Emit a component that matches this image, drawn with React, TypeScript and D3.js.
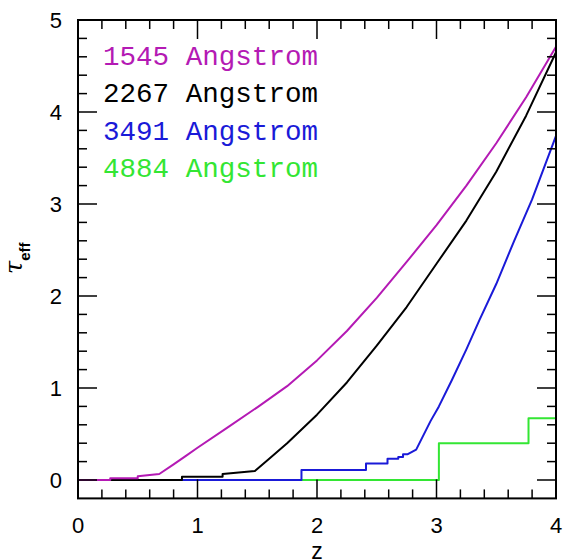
import React, { useEffect, useRef } from 'react';
import * as d3 from 'd3';

// tau_eff vs redshift, one curve per rest wavelength
const z1545 = [0, 0.27, 0.27, 0.5, 0.5, 0.68, 0.8, 0.9, 1.0, 1.25, 1.5, 1.75, 2.0, 2.25, 2.5, 2.75, 3.0, 3.25, 3.5, 3.75, 4.0];
const t1545 = [0, 0, 0.018, 0.018, 0.04, 0.065, 0.17, 0.26, 0.35, 0.57, 0.79, 1.02, 1.3, 1.62, 1.98, 2.37, 2.77, 3.2, 3.66, 4.16, 4.71];

const z2267 = [0, 0.87, 0.87, 1.21, 1.21, 1.48, 1.6, 1.75, 2.0, 2.25, 2.5, 2.75, 3.0, 3.25, 3.5, 3.75, 4.0];
const t2267 = [0, 0, 0.036, 0.036, 0.065, 0.098, 0.23, 0.4, 0.71, 1.06, 1.46, 1.88, 2.35, 2.82, 3.35, 3.96, 4.65];

const z3491 = [0, 1.87, 1.87, 2.41, 2.41, 2.59, 2.59, 2.68, 2.68, 2.72, 2.72, 2.76, 2.83, 2.95, 3.02, 3.13, 3.25, 3.36, 3.5, 3.65, 3.8, 4.0];
const t3491 = [0, 0, 0.109, 0.109, 0.18, 0.18, 0.23, 0.23, 0.25, 0.25, 0.28, 0.28, 0.33, 0.64, 0.8, 1.09, 1.42, 1.74, 2.13, 2.6, 3.05, 3.74];

const z4884 = [0, 3.02, 3.02, 3.77, 3.77, 4.0];
const t4884 = [0, 0, 0.4, 0.4, 0.67, 0.67];

const labels = ['1545 Angstrom', '2267 Angstrom', '3491 Angstrom', '4884 Angstrom'];
const colors = ['#b41ab4', '#000000', '#1a1ad8', '#33e633'];

const xTicks = [0, 1, 2, 3, 4];
const yTicks = [0, 1, 2, 3, 4, 5];

export default function App() {
  const svgRef = useRef<SVGSVGElement>(null);

  useEffect(() => {
    if (!svgRef.current) return;
    const svg = d3.select(svgRef.current);
    svg.selectAll('*').remove();

    const left = 78, right = 556, top = 20, bottom = 498.4;
    const x = d3.scaleLinear().domain([0, 4]).range([left, right]);
    const y = d3.scaleLinear().domain([-0.2, 5]).range([bottom, top]);

    const line = d3.line<[number, number]>().x(d => x(d[0])).y(d => y(d[1]));
    const series = [
      { z: z4884, t: t4884, c: colors[3] },
      { z: z3491, t: t3491, c: colors[2] },
      { z: z2267, t: t2267, c: colors[1] },
      { z: z1545, t: t1545, c: colors[0] },
    ];
    series.forEach(s => {
      svg.append('path')
        .attr('d', line(s.z.map((v, i) => [v, s.t[i]] as [number, number])))
        .attr('fill', 'none')
        .attr('stroke', s.c)
        .attr('stroke-width', 2)
        .attr('stroke-linejoin', 'round');
    });

    // frame
    svg.append('rect')
      .attr('x', left).attr('y', top)
      .attr('width', right - left).attr('height', bottom - top)
      .attr('fill', 'none').attr('stroke', '#000').attr('stroke-width', 2);

    const ticks = svg.append('g').attr('stroke', '#000').attr('stroke-width', 1.5);
    d3.range(0, 4.001, 0.2).forEach(v => {
      const major = Math.abs(v - Math.round(v)) < 1e-6;
      const len = major ? 19 : 9;
      if (v < 1e-6 || v > 3.999) return;
      ticks.append('line').attr('x1', x(v)).attr('x2', x(v)).attr('y1', bottom).attr('y2', bottom - len);
      ticks.append('line').attr('x1', x(v)).attr('x2', x(v)).attr('y1', top).attr('y2', top + len);
    });
    d3.range(0, 5.001, 0.2).forEach(v => {
      const major = Math.abs(v - Math.round(v)) < 1e-6;
      const len = major ? 19 : 9;
      if (v > 4.999) return;
      ticks.append('line').attr('x1', left).attr('x2', left + len).attr('y1', y(v)).attr('y2', y(v));
      ticks.append('line').attr('x1', right).attr('x2', right - len).attr('y1', y(v)).attr('y2', y(v));
    });

    const font = '"Liberation Sans", Arial, sans-serif';
    svg.append('g').selectAll('text').data(xTicks).enter().append('text')
      .attr('x', d => x(d)).attr('y', 532.5)
      .attr('text-anchor', 'middle')
      .style('font-family', font).style('font-size', '22px')
      .text(d => d);
    svg.append('g').selectAll('text').data(yTicks).enter().append('text')
      .attr('x', 62).attr('y', d => y(d) + 8)
      .attr('text-anchor', 'end')
      .style('font-family', font).style('font-size', '22px')
      .text(d => d);

    svg.append('text')
      .attr('x', x(2)).attr('y', 559)
      .attr('text-anchor', 'middle')
      .style('font-family', font).style('font-size', '23px')
      .text('z');

    const yl = svg.append('text')
      .attr('transform', 'translate(22,274) rotate(-90)')
      .style('font-family', '"DejaVu Serif", serif').style('font-style', 'italic').style('font-size', '24px');
    yl.append('tspan').text('τ');
    yl.append('tspan').attr('dy', 8).style('font-size', '15px').style('font-style', 'normal')
      .style('font-family', font).style('font-weight', 'bold').text('eff');

    svg.append('g').selectAll('text').data(labels).enter().append('text')
      .attr('x', 103).attr('y', (d, i) => 65 + i * 37.4)
      .attr('fill', (d, i) => colors[i])
      .attr('textLength', 215).attr('lengthAdjust', 'spacingAndGlyphs')
      .style('font-family', '"Liberation Mono", "Courier New", monospace').style('font-size', '27px')
      .text(d => d);
  }, []);

  return (
    <svg ref={svgRef} width={564} height={560}
      style={{ position: 'absolute', left: 0, top: 0, background: '#fff' }} />
  );
}
